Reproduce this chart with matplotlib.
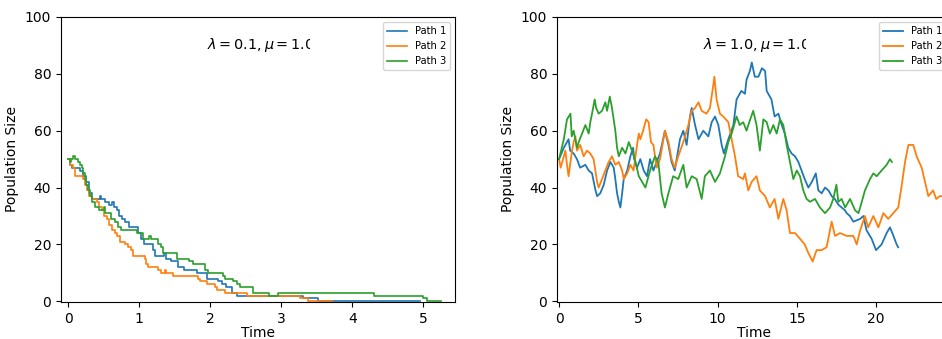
import matplotlib

matplotlib.use("Agg")
import matplotlib.pyplot as plt
from matplotlib.transforms import Bbox, TransformedBbox

# left panel: lambda = 0.1, mu = 1.0 (event times and population after each event)
left_t1 = [0, 0.02, 0.05, 0.16, 0.2, 0.25, 0.29, 0.34, 0.44, 0.46, 0.52, 0.58, 0.62, 0.64,
           0.69, 0.72, 0.76, 0.8, 0.86, 0.98, 1.02, 1.06, 1.19, 1.22, 1.35, 1.38, 1.44, 1.55,
           1.63, 1.81, 1.95, 2.11, 2.16, 2.22, 2.3, 2.37, 3.3, 3.52, 4.95]
left_n1 = [50, 48, 47, 46, 44, 42, 38, 36, 37, 36, 35, 34, 35, 33,
           32, 30, 29, 28, 26, 24, 22, 20, 18, 16, 17, 15, 14, 12,
           11, 10, 8, 7, 6, 5, 3, 2, 1, 0, 0]
left_t2 = [0, 0.02, 0.06, 0.09, 0.1, 0.2, 0.23, 0.26, 0.29, 0.33, 0.4, 0.43, 0.47, 0.5,
           0.55, 0.58, 0.62, 0.66, 0.69, 0.73, 0.8, 0.84, 0.88, 0.91, 1.08, 1.1, 1.12, 1.26,
           1.3, 1.36, 1.38, 1.48, 1.82, 1.86, 1.95, 2.06, 2.09, 2.2, 2.51, 3.26, 3.38, 3.72]
left_n2 = [50, 48, 47, 46, 44, 43, 41, 39, 37, 36, 35, 33, 32, 30,
           29, 27, 25, 24, 23, 21, 20, 19, 18, 16, 15, 13, 12, 11,
           10, 11, 10, 9, 8, 7, 6, 5, 4, 3, 2, 1, 0, 0]
left_t3 = [0, 0.02, 0.04, 0.06, 0.1, 0.14, 0.17, 0.19, 0.21, 0.23, 0.25, 0.28, 0.31, 0.34,
           0.38, 0.43, 0.5, 0.52, 0.6, 0.66, 0.7, 0.74, 0.97, 1.05, 1.14, 1.16, 1.27, 1.3,
           1.34, 1.53, 1.7, 1.76, 1.92, 1.97, 2.18, 2.2, 2.32, 2.38, 2.42, 2.6, 2.82, 2.96,
           4.3, 5.0, 5.05, 5.25]
left_n3 = [50, 49, 50, 51, 50, 49, 48, 47, 45, 43, 41, 39, 37, 35,
           33, 32, 33, 31, 29, 28, 26, 25, 24, 22, 23, 22, 20, 19,
           17, 15, 14, 13, 11, 10, 9, 8, 7, 6, 5, 3, 2, 3,
           2, 1, 0, 0]

right_t1 = [0, 0.3, 0.6, 0.7, 0.92, 1.13, 1.33, 1.66, 1.87, 2.08, 2.3, 2.4, 2.6, 2.82, 3.03,
            3.24, 3.45, 3.55, 3.66, 3.77, 3.87, 3.98, 4.08, 4.3, 4.5, 4.67, 4.75, 4.92, 5.13,
            5.34, 5.55, 5.74, 5.95, 6.16, 6.37, 6.68, 6.9, 7.1, 7.3, 7.63, 7.84, 8.05, 8.26,
            8.37, 8.58, 8.8, 9.1, 9.42, 9.63, 9.84, 10.05, 10.26, 10.4, 10.68, 11.0, 11.2,
            11.5, 11.73, 11.83, 12.04, 12.16, 12.35, 12.58, 12.8, 13.0, 13.1, 13.4, 13.6,
            13.84, 14.05, 14.25, 14.46, 14.67, 14.89, 15.1, 15.3, 15.5, 15.73, 15.95, 16.2,
            16.36, 16.57, 16.78, 17.0, 17.2, 17.4, 17.62, 17.83, 18.04, 18.15, 18.35, 18.57,
            19.0, 19.2, 19.4, 19.72, 20.0, 20.35, 20.67, 20.88, 21.1, 21.3, 21.4]
right_n1 = [50, 54, 57, 53, 52, 50, 47, 48, 46, 45, 39, 37, 38, 41, 46,
            49, 47, 43, 38, 35, 33, 38, 43, 46, 51, 54, 50, 47, 50,
            46, 44, 50, 46, 49, 52, 60, 55, 49, 46, 57, 60, 55, 65,
            68, 62, 57, 60, 58, 63, 65, 62, 55, 52, 57, 62, 71,
            74, 73, 78, 81, 84, 79, 79, 82, 81, 74, 71, 65,
            66, 62, 59, 54, 52, 51, 49, 46, 43, 40, 42, 45,
            39, 38, 40, 39, 37, 36, 34, 33, 32, 31, 30, 28,
            29, 30, 25, 22, 18, 20, 24, 26, 23, 20, 19]
right_t2 = [0, 0.1, 0.3, 0.4, 0.5, 0.6, 0.72, 0.82, 0.92, 1.03, 1.13, 1.33, 1.55, 1.76, 1.97,
            2.18, 2.4, 2.5, 2.71, 2.92, 3.13, 3.34, 3.55, 3.77, 3.98, 4.08, 4.3, 4.5, 4.7,
            4.92, 5.03, 5.13, 5.3, 5.5, 5.65, 5.8, 5.95, 6.16, 6.37, 6.68, 6.9, 7.1, 7.3,
            7.52, 7.84, 8.16, 8.37, 8.58, 8.8, 9.0, 9.3, 9.52, 9.73, 9.8, 9.94, 10.15, 10.36,
            10.68, 10.89, 11.1, 11.3, 11.62, 11.73, 11.94, 12.15, 12.46, 12.67, 13.0, 13.3,
            13.6, 13.84, 14.15, 14.36, 14.57, 14.89, 15.2, 15.5, 15.73, 16.0, 16.25, 16.57,
            16.88, 17.2, 17.41, 17.73, 18.15, 18.57, 18.78, 19.0, 19.3, 19.5, 19.83, 20.15,
            20.46, 20.77, 21.09, 21.4, 21.6, 21.83, 22.04, 22.35, 22.56, 22.88, 23.09, 23.3,
            23.6, 23.8, 24.03, 24.2]
right_n2 = [50, 47, 51, 53, 48, 44, 49, 53, 56, 58, 53, 55, 51, 53, 52,
            50, 42, 40, 43, 46, 49, 51, 48, 49, 46, 43, 45, 48, 46,
            55, 59, 57, 60, 64, 63, 56, 55, 47, 50, 60, 56, 50, 47,
            51, 56, 62, 67, 68, 70, 67, 66, 68, 76, 79, 71, 66, 65,
            63, 57, 51, 44, 43, 45, 39, 42, 44, 39, 37, 33,
            36, 29, 36, 32, 24, 24, 22, 20, 17, 14, 18, 18,
            19, 28, 23, 24, 23, 23, 20, 25, 30, 26, 30, 26,
            31, 29, 31, 33, 40, 49, 55, 55, 51, 47, 42, 37,
            39, 36, 37, 37]
right_t3 = [0, 0.3, 0.5, 0.72, 0.8, 0.92, 1.13, 1.24, 1.45, 1.66, 1.87, 1.97, 2.08, 2.25,
            2.34, 2.5, 2.71, 2.92, 3.03, 3.2, 3.34, 3.55, 3.66, 3.77, 3.98, 4.19, 4.4, 4.6,
            4.82, 5.03, 5.24, 5.45, 5.74, 6.05, 6.26, 6.47, 6.68, 6.9, 7.2, 7.52, 7.84, 8.05,
            8.37, 8.68, 9.0, 9.2, 9.52, 9.84, 10.15, 10.47, 10.68, 10.89, 11.2, 11.4, 11.62,
            11.83, 11.94, 12.25, 12.46, 12.67, 12.89, 13.1, 13.3, 13.52, 13.73, 13.94, 14.15,
            14.36, 14.57, 14.78, 15.0, 15.2, 15.41, 15.62, 15.83, 16.15, 16.46, 16.78, 17.1,
            17.3, 17.5, 17.62, 17.83, 18.05, 18.36, 18.68, 18.89, 19.0, 19.3, 19.62, 19.83,
            20.04, 20.35, 20.67, 20.88, 21.0]
right_n3 = [50, 57, 64, 66, 58, 60, 54, 56, 59, 62, 59, 63, 66, 71,
            68, 66, 67, 70, 67, 72, 68, 60, 54, 51, 54, 52, 56, 53,
            49, 44, 42, 40, 46, 51, 49, 38, 33, 38, 44, 43, 48, 40,
            44, 43, 36, 44, 46, 42, 45, 51, 56, 59, 65, 62, 63,
            60, 62, 67, 62, 53, 64, 63, 59, 62, 59, 64, 62,
            55, 49, 43, 46, 44, 39, 36, 35, 36, 33, 31, 33,
            36, 41, 35, 36, 33, 36, 32, 31, 33, 39, 43, 45,
            44, 46, 48, 50, 49]

labels = ["Path 1", "Path 2", "Path 3"]
colors = ["#1f77b4", "#ff7f0e", "#2ca02c"]

fig = plt.figure(figsize=(9.42, 3.39), dpi=100)
ax_left = fig.add_axes([61 / 942, 37 / 339, 394 / 942, 285 / 339])
ax_right = fig.add_axes([557 / 942, 37 / 339, 394 / 942, 285 / 339])

left_paths = [(left_t1, left_n1), (left_t2, left_n2), (left_t3, left_n3)]
right_paths = [(right_t1, right_n1), (right_t2, right_n2), (right_t3, right_n3)]

for (t, n), label, color in zip(left_paths, labels, colors):
    ax_left.plot(t, n, drawstyle="steps-post", color=color, linewidth=1.2, label=label)
for (t, n), label, color in zip(right_paths, labels, colors):
    ax_right.plot(t, n, color=color, linewidth=1.3, label=label)

for ax, title, xlim, xticks in [
    (ax_left, r"$\lambda = 0.1, \mu = 1.0$", (-0.103, 5.446), [0, 1, 2, 3, 4, 5]),
    (ax_right, r"$\lambda = 1.0, \mu = 1.0$", (-0.13, 24.73), [0, 5, 10, 15, 20]),
]:
    ax.set_xlim(*xlim)
    ax.set_ylim(-0.25, 100)
    ax.set_xticks(xticks)
    ax.set_yticks([0, 20, 40, 60, 80, 100])
    ax.tick_params(labelsize=10)
    ax.set_xlabel("Time", fontsize=10, labelpad=0)
    ax.set_ylabel("Population Size", fontsize=10)
    ax.legend(loc="upper right", fontsize=7.2)
    txt = ax.text(0.507, 0.9, title, transform=ax.transAxes, ha="center", va="center",
                  fontsize=10.4, clip_on=True)
    # the original annotation is cut off at the right edge
    txt.set_clip_path(None)
    txt.set_clip_box(TransformedBbox(Bbox([[0, 0], [0.632, 1]]), ax.transAxes))

fig.savefig("out.png", dpi=100)
